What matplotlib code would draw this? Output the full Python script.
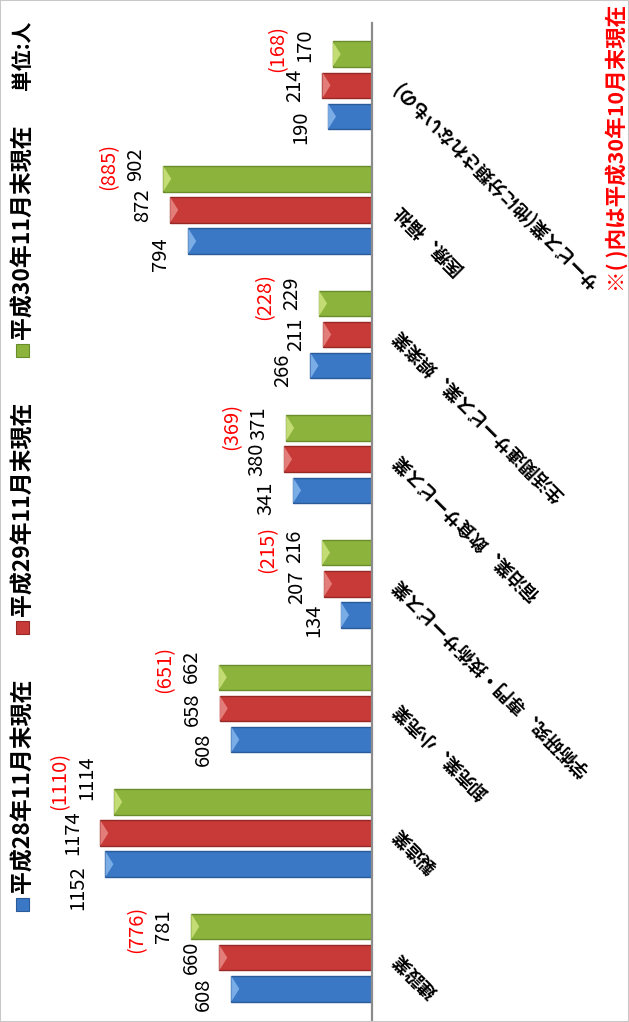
import matplotlib

matplotlib.use("Agg")
import matplotlib.pyplot as plt
import numpy as np
from matplotlib.patches import Polygon, Rectangle

plt.rcParams["font.family"] = ["Noto Sans CJK JP", "DejaVu Sans"]

# categories from bottom to top of the picture
categories = [
    "建設業",
    "製造業",
    "卸売業、小売業",
    "学術研究、専門・技術サービス業",
    "宿泊業、飲食サービス業",
    "生活関連サービス業、娯楽業",
    "医療、福祉",
    "サービス業(他に分類されないもの)",
]
h28 = [608, 1152, 608, 134, 341, 266, 794, 190]
h29 = [660, 1174, 658, 207, 380, 211, 872, 214]
h30 = [781, 1114, 662, 216, 371, 229, 902, 170]
h30_oct = [776, 1110, 651, 215, 369, 228, 885, 168]
series_names = ["平成28年11月末現在", "平成29年11月末現在", "平成30年11月末現在"]

# label nudges in pixels (down is positive), per category
nudge_blue = [5, 23, 10, 5, 8, 5, 13, 11]
nudge_red = [0, 0, 1, 3, 0, 0, -5, 0]
nudge_green = [0, -24, -11, -6, -5, -10, -15, -9]

colors = ["#3a78c6", "#c83a37", "#8cb43c"]
edges = ["#2a5a98", "#962826", "#6a8c2a"]
lights = ["#86b6ec", "#e88a86", "#cde47e"]

W, H = 629, 1022
fig = plt.figure(figsize=(W / 100, H / 100), dpi=100)

ax_left, ax_right = 48, 372
ax_top, ax_bottom = 23, 1020
ax = fig.add_axes([ax_left / W, 1 - ax_bottom / H, (ax_right - ax_left) / W, (ax_bottom - ax_top) / H])

y = np.arange(len(categories))
offsets = [-0.25, 0.0, 0.25]
bar_h = 0.205
xmax = 1400
px_per_unit = (ax_right - ax_left) / xmax
chamfer = 8 / px_per_unit

for series, off, fc, ec, lc in zip([h28, h29, h30], offsets, colors, edges, lights):
    ax.barh(y + off, series, height=bar_h, color=fc, edgecolor=ec, linewidth=1.0, zorder=2)
    for yi, v in zip(y + off, series):
        tri = Polygon(
            [(v, yi + bar_h / 2), (v, yi - bar_h / 2), (v - chamfer, yi)],
            closed=True, facecolor=lc, edgecolor="none", alpha=0.85, zorder=3,
        )
        ax.add_patch(tri)

ax.set_xlim(xmax, 0)
ax.set_ylim(-0.5, len(categories) - 0.5)
for side in ["left", "top", "bottom"]:
    ax.spines[side].set_visible(False)
ax.spines["right"].set_color("#8c8c8c")
ax.spines["right"].set_linewidth(1.6)
ax.set_xticks([])
ax.set_yticks([])
ax.patch.set_alpha(0)

gap = 17
for series, off, nudges in zip([h28, h29, h30], offsets, [nudge_blue, nudge_red, nudge_green]):
    for yi, v, n in zip(y + off, series, nudges):
        ax.annotate(
            str(v), xy=(v, yi), xytext=(-gap, -n), textcoords="offset pixels",
            rotation=90, ha="right", va="center", fontsize=14.5, color="black",
        )

for yi, v, vr, n in zip(y + offsets[2], h30, h30_oct, nudge_green):
    ax.annotate(
        f"({vr})", xy=(v, yi), xytext=(-44, -n - 3), textcoords="offset pixels",
        rotation=90, ha="right", va="center", fontsize=14.5, color="#ff0000",
    )

# category labels, rotated, to the right of the axis
for yi, name in zip(y, categories):
    ax.annotate(
        name, xy=(0, yi), xytext=(24, 2), textcoords="offset pixels",
        rotation=135, rotation_mode="anchor", ha="right", va="center",
        fontsize=13, fontweight="bold", color="black", annotation_clip=False,
    )

# legend drawn along the left edge
legend_y = [904, 627, 350]
for name, fc, ec, lc, ly in zip(series_names, colors, edges, lights, legend_y):
    fig.patches.append(Rectangle((16 / W, 1 - (ly + 6.5) / H), 13 / W, 13 / H,
                                 transform=fig.transFigure, facecolor=fc, edgecolor=ec, linewidth=0.8))
    fig.text(23 / W, 1 - (ly - 11) / H, name, rotation=90, ha="center", va="bottom",
             fontsize=16.5, fontweight="bold")

fig.text(22 / W, 1 - 90 / H, "単位:人", rotation=90, ha="center", va="bottom", fontsize=15,
         fontweight="bold")
fig.text(617 / W, 1 - 292 / H, "※( )内は平成30年10月末現在", rotation=90, ha="center", va="bottom",
         fontsize=15.5, fontweight="bold", color="#ff0000")

fig.patches.append(Rectangle((0, 0), 1, 1, transform=fig.transFigure, fill=False,
                             edgecolor="#c8c8c8", linewidth=1.5))

fig.savefig("out.png", dpi=100)
